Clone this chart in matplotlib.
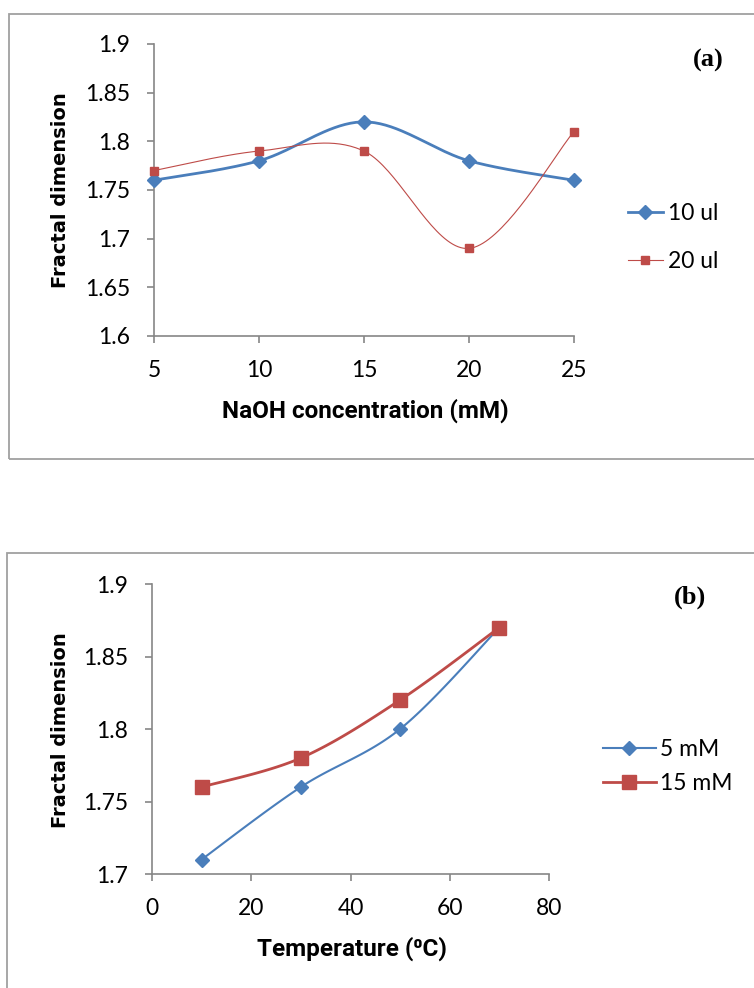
import numpy as np
import matplotlib
matplotlib.use('Agg')
import matplotlib.pyplot as plt
from matplotlib.patches import Rectangle

# panel (a) data
naoh = [5, 10, 15, 20, 25]
fd_10ul = [1.76, 1.78, 1.82, 1.78, 1.76]
fd_20ul = [1.77, 1.79, 1.79, 1.69, 1.81]

# panel (b) data
temp = [10, 30, 50, 70]
fd_5mm = [1.71, 1.76, 1.80, 1.87]
fd_15mm = [1.76, 1.78, 1.82, 1.87]

BLUE = '#4A7EBB'
RED = '#BE4B48'
GRAY = '#868686'
NARROW = ['Lato', 'DejaVu Sans']
BOLDFAM = ['Roboto', 'DejaVu Sans']


def smooth(x, y, n=40):
    # Excel-like smoothed line: Catmull-Rom style bezier through the points
    pts = np.column_stack([x, y]).astype(float)
    out = []
    for i in range(len(pts) - 1):
        p0 = pts[i - 1] if i > 0 else pts[i]
        p1, p2 = pts[i], pts[i + 1]
        p3 = pts[i + 2] if i + 2 < len(pts) else pts[i + 1]
        c1 = p1 + (p2 - p0) / 6
        c2 = p2 - (p3 - p1) / 6
        t = np.linspace(0, 1, n)[:, None]
        seg = ((1 - t) ** 3) * p1 + 3 * ((1 - t) ** 2) * t * c1 + 3 * (1 - t) * t ** 2 * c2 + t ** 3 * p2
        out.append(seg if i == 0 else seg[1:])
    out = np.vstack(out)
    return out[:, 0], out[:, 1]


def style_axes(ax):
    for s in ['top', 'right']:
        ax.spines[s].set_visible(False)
    for s in ['left', 'bottom']:
        ax.spines[s].set_color(GRAY)
        ax.spines[s].set_linewidth(1.2)
    ax.tick_params(axis='both', colors=GRAY, length=5, width=1.2, direction='out')
    ax.tick_params(axis='x', pad=12, labelcolor='black', labelsize=16.5)
    ax.tick_params(axis='y', pad=12, labelcolor='black', labelsize=16.5)
    for lab in ax.get_xticklabels() + ax.get_yticklabels():
        lab.set_family(NARROW)


fig = plt.figure(figsize=(7.54, 9.88), dpi=100)
W, H = 754, 988

# frames around the two chart areas
fig.patches.append(Rectangle((8.5 / W, 1 - 459 / H), (760 - 8.5) / W, (459 - 14.5) / H,
                             transform=fig.transFigure, fill=False, edgecolor='#A0A0A0', linewidth=1.3))
fig.patches.append(Rectangle((7 / W, -0.01), (760 - 7) / W, 1 - 553 / H + 0.01,
                             transform=fig.transFigure, fill=False, edgecolor='#A0A0A0', linewidth=1.3))

# ---- panel (a)
ax1 = fig.add_axes([154 / W, 1 - 336 / H, (574 - 154) / W, (336 - 44) / H])
sx, sy = smooth(naoh, fd_10ul)
ax1.plot(sx, sy, color=BLUE, lw=2.0, clip_on=False)
ax1.plot(naoh, fd_10ul, ls='none', marker='D', ms=7.5, color=BLUE, clip_on=False, zorder=3)
sx, sy = smooth(naoh, fd_20ul)
ax1.plot(sx, sy, color=RED, lw=0.8, clip_on=False)
ax1.plot(naoh, fd_20ul, ls='none', marker='s', ms=5.5, color=RED, clip_on=False, zorder=3)
ax1.plot([], [], color=BLUE, lw=2.0, marker='D', ms=7.5, label='10 ul')
ax1.plot([], [], color=RED, lw=0.8, marker='s', ms=5.5, label='20 ul')
ax1.set_xlim(5, 25)
ax1.set_ylim(1.6, 1.9)
ax1.set_xticks(naoh)
ax1.set_yticks([1.6, 1.65, 1.7, 1.75, 1.8, 1.85, 1.9])
ax1.set_yticklabels(['1.6', '1.65', '1.7', '1.75', '1.8', '1.85', '1.9'])
style_axes(ax1)
h, l = ax1.get_legend_handles_labels()
ax1.legend(h[-2:], l[-2:], loc='center left', bbox_to_anchor=(1.129, 0.337), frameon=False,
           borderaxespad=0, borderpad=0,
           prop={'family': NARROW, 'size': 16.5}, handlelength=1.5, handletextpad=0.25, labelspacing=1.15)
fig.text(708 / W, 1 - 60 / H, '(a)', family='Liberation Serif', weight='bold', fontsize=19,
         ha='center', va='center')
fig.text(60 / W, 1 - 190 / H, 'Fractal dimension', rotation=90, weight='bold', fontsize=14,
         family='DejaVu Sans', ha='center', va='center')
fig.text(365 / W, 1 - 411 / H, 'NaOH concentration (mM)', weight='bold', fontsize=17.5,
         family=BOLDFAM, ha='center', va='center')

# ---- panel (b)
ax2 = fig.add_axes([152 / W, 1 - 874 / H, (549 - 152) / W, (874 - 584) / H])
sx, sy = smooth(temp, fd_5mm)
ax2.plot(sx, sy, color=BLUE, lw=1.5)
ax2.plot(temp, fd_5mm, ls='none', marker='D', ms=7, color=BLUE, zorder=3)
sx, sy = smooth(temp, fd_15mm)
ax2.plot(sx, sy, color=RED, lw=2.0)
ax2.plot(temp, fd_15mm, ls='none', marker='s', ms=10, color=RED, zorder=3)
ax2.plot([], [], color=BLUE, lw=1.5, marker='D', ms=7, label='5 mM')
ax2.plot([], [], color=RED, lw=2.0, marker='s', ms=10, label='15 mM')
ax2.set_xlim(0, 80)
ax2.set_ylim(1.7, 1.9)
ax2.set_xticks([0, 20, 40, 60, 80])
ax2.set_yticks([1.7, 1.75, 1.8, 1.85, 1.9])
ax2.set_yticklabels(['1.7', '1.75', '1.8', '1.85', '1.9'])
style_axes(ax2)
h, l = ax2.get_legend_handles_labels()
ax2.legend(h[-2:], l[-2:], loc='center left', bbox_to_anchor=(1.136, 0.371), frameon=False,
           borderaxespad=0, borderpad=0,
           prop={'family': NARROW, 'size': 16.5}, handlelength=2.3, handletextpad=0.2, labelspacing=0.55)
fig.text(690 / W, 1 - 597 / H, '(b)', family='Liberation Serif', weight='bold', fontsize=19,
         ha='center', va='center')
fig.text(60 / W, 1 - 730 / H, 'Fractal dimension', rotation=90, weight='bold', fontsize=14,
         family='DejaVu Sans', ha='center', va='center')
fig.text(352 / W, 1 - 949 / H, 'Temperature (\u2070C)', weight='bold', fontsize=17.5,
         family=BOLDFAM, ha='center', va='center')

fig.savefig('out.png', dpi=100)
